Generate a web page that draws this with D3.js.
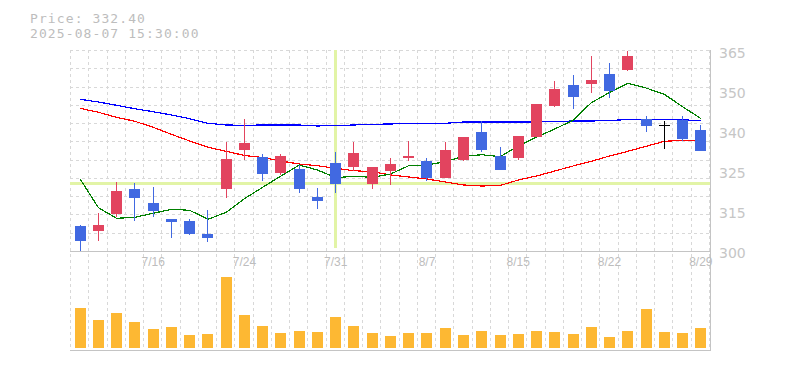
<!DOCTYPE html>
<html><head><meta charset="utf-8">
<script src="https://cdn.jsdelivr.net/npm/d3@7"></script>
<style>html,body{margin:0;padding:0;background:#fff;} svg{display:block}</style>
</head><body><svg id="c" width="785" height="370"></svg>
<script>
const dates = ["7/10","7/11","7/14","7/15","7/16","7/17","7/18","7/22","7/23","7/24","7/25","7/28","7/29","7/30","7/31","8/1","8/4","8/5","8/6","8/7","8/8","8/12","8/13","8/14","8/15","8/18","8/19","8/20","8/21","8/22","8/25","8/26","8/27","8/28","8/29"];
const open  = [308.08,306.46,312.05,320.03,315.50,310.34,309.69,305.49,320.12,332.72,330.27,325.29,326.49,317.54,328.42,327.23,321.74,325.84,330.04,329.07,323.68,329.39,338.44,330.69,330.14,336.92,346.93,353.62,354.04,357.17,358.56,342.54,340.60,342.31,339.08];
const high  = [308.40,312.27,322.19,321.87,320.67,310.34,310.34,313.15,335.21,342.64,331.33,331.33,327.78,320.35,331.98,335.21,327.13,330.04,335.53,330.04,335.21,336.82,341.99,333.59,337.15,347.48,354.91,356.85,362.99,360.72,364.60,343.61,341.99,343.61,340.70];
const low   = [300.00,303.23,311.08,309.79,311.08,304.30,305.26,303.00,317.22,329.49,322.71,324.64,318.73,313.66,318.73,325.94,320.12,321.32,329.07,322.71,323.68,329.07,331.98,326.26,329.39,336.92,346.61,345.96,351.13,349.52,358.24,338.53,333.04,335.63,332.40];
const close = [303.23,308.40,319.38,317.22,313.02,309.46,305.59,304.30,329.72,334.98,324.97,330.69,320.12,316.25,321.74,331.65,327.13,328.10,330.69,323.68,332.62,336.82,332.62,326.26,337.15,347.48,352.33,349.84,355.23,351.78,362.99,340.47,340.60,336.18,332.40];
const volume = [400,280,350,260,190,210,130,140,710,330,220,150,170,160,310,220,150,120,150,150,200,130,170,130,140,170,160,140,210,110,170,390,160,150,200];
const ma5  = [323.26,313.99,310.56,310.89,312.18,313.47,313.15,310.24,312.50,316.89,320.58,324.23,327.78,326.16,323.68,324.13,323.81,324.87,327.55,327.78,328.84,330.59,331.10,330.46,333.92,336.82,339.41,342.22,347.90,351.20,354.17,352.65,350.61,346.61,342.80];
const ma25 = [346.09,344.80,343.19,341.89,339.96,337.69,335.53,333.50,332.21,330.85,330.20,329.07,328.10,327.55,326.71,325.94,325.61,324.55,323.90,323.26,322.29,321.32,321.00,321.16,322.93,324.23,325.84,327.46,328.97,330.69,332.20,333.82,335.43,335.76,335.76];
const ma75 = [349.00,348.13,347.06,345.96,344.99,343.93,342.73,341.25,340.70,340.60,340.70,340.70,340.70,340.38,340.54,340.70,340.93,341.02,341.25,341.25,341.25,341.67,341.67,341.67,341.67,341.67,341.83,341.99,341.99,342.15,342.47,342.47,342.47,342.31,342.22];
const xTickLabels = ["7/16","7/24","7/31","8/7","8/15","8/22","8/29"];
const yTickLabels = ["300","315","325","340","350","365"];
const priceDomain = [300, 364.6];
const infoLines = ["Price: 332.40", "2025-08-07 15:30:00"];
const crossDate = "7/31";
const crossPrice = 321.8;

const svg = d3.select("#c");
const L = 70, R = 710, PT = 51, PB = 251, VB = 348, VA = 350;
const step = 18.256;
const idx = d3.range(dates.length);

const x = d3.scaleBand().domain(dates).range([71, 71 + dates.length * step]);
const cx = d => x(d) + x.bandwidth() / 2;
const y = d3.scaleLinear().domain(priceDomain).range([PB, PT]);
const yv = d3.scaleLinear().domain([0, d3.max(volume)]).range([VB, VB - 71]);
const gx = d3.scaleLinear().domain([0, 1]).range([L, L + step]);
const gy = d3.scaleLinear().domain([0, 1]).range([PB, PB - step]);

const grid = svg.append("g").attr("stroke", "#d8d8d8").attr("stroke-dasharray", "3,3").attr("shape-rendering", "crispEdges");
d3.range(0, 36).forEach(k => {
  const xx = Math.round(gx(k)) + 0.5;
  grid.append("line").attr("x1", xx).attr("x2", xx).attr("y1", 50).attr("y2", VA);
});
d3.range(1, 12).forEach(k => {
  const yy = Math.round(gy(k)) + 0.5;
  grid.append("line").attr("x1", L).attr("x2", R).attr("y1", yy).attr("y2", yy);
});

// crosshair
svg.append("line").attr("x1", L).attr("x2", R).attr("y1", y(crossPrice)).attr("y2", y(crossPrice))
  .attr("stroke", "#e2f4a6").attr("stroke-width", 3).attr("shape-rendering", "crispEdges");
svg.append("line").attr("x1", cx(crossDate)).attr("x2", cx(crossDate)).attr("y1", 50).attr("y2", 248)
  .attr("stroke", "#e2f4a6").attr("stroke-width", 3).attr("shape-rendering", "crispEdges");

// axes lines
const ax = svg.append("g").attr("stroke", "#c4c4c4").attr("shape-rendering", "crispEdges");
ax.append("line").attr("x1", L).attr("x2", R).attr("y1", PB + 0.5).attr("y2", PB + 0.5);
ax.append("line").attr("x1", L).attr("x2", R + 1).attr("y1", VA + 0.5).attr("y2", VA + 0.5);
ax.append("line").attr("x1", R + 0.5).attr("x2", R + 0.5).attr("y1", 50).attr("y2", VA);

// moving averages
const mkLine = (arr) => d3.line().x((v, i) => cx(dates[i])).y(v => y(v))(arr);
[[ma75, "#0000ff"], [ma25, "#ff0000"], [ma5, "#008000"]].forEach(([arr, col]) => {
  svg.append("path").attr("d", mkLine(arr)).attr("fill", "none").attr("stroke", col)
    .attr("stroke-width", 1.2).attr("shape-rendering", "crispEdges");
});

// candles
const cg = svg.append("g").attr("shape-rendering", "crispEdges");
idx.forEach(i => {
  const o = open[i], c = close[i];
  const col = c > o ? "#e2445f" : (c < o ? "#4169e1" : "#000000");
  const bx = Math.round(cx(dates[i]) - 5.5);
  const yt = y(Math.max(o, c)), yb = y(Math.min(o, c));
  cg.append("rect").attr("x", bx + 5).attr("width", 1).attr("y", y(high[i])).attr("height", y(low[i]) - y(high[i])).attr("fill", col);
  cg.append("rect").attr("x", bx).attr("width", 11).attr("y", yt).attr("height", Math.max(1, yb - yt)).attr("fill", col);
});

// volume
idx.forEach(i => {
  const bx = Math.round(cx(dates[i]) - 5.5);
  svg.append("rect").attr("x", bx).attr("width", 11).attr("y", yv(volume[i])).attr("height", VB - yv(volume[i]))
    .attr("fill", "#fdb833").attr("shape-rendering", "crispEdges");
});

// x labels
xTickLabels.forEach(t => {
  svg.append("text").attr("x", cx(t)).attr("y", 266).attr("text-anchor", "middle")
    .attr("font-family", "Liberation Sans, Arial, sans-serif").attr("font-size", 12).attr("fill", "#bdbdbd").text(t);
});

// y labels
const yTicks = d3.range(yTickLabels.length).map(k => priceDomain[0] + k * (priceDomain[1] - priceDomain[0]) / (yTickLabels.length - 1));
yTickLabels.forEach((t, k) => {
  svg.append("text").attr("x", 719).attr("y", y(yTicks[k]) + 7.3)
    .attr("font-family", "DejaVu Sans, sans-serif").attr("font-size", 14).attr("fill", "#c6c6c6").text(t);
});

// info text
infoLines.forEach((t, k) => {
  svg.append("text").attr("x", 30).attr("y", 22.8 + k * 15.4)
    .attr("font-family", "DejaVu Sans Mono, monospace").attr("font-size", 13)
    .attr("letter-spacing", 1.1).attr("fill", "#bdbdbd").text(t);
});
</script></body></html>
